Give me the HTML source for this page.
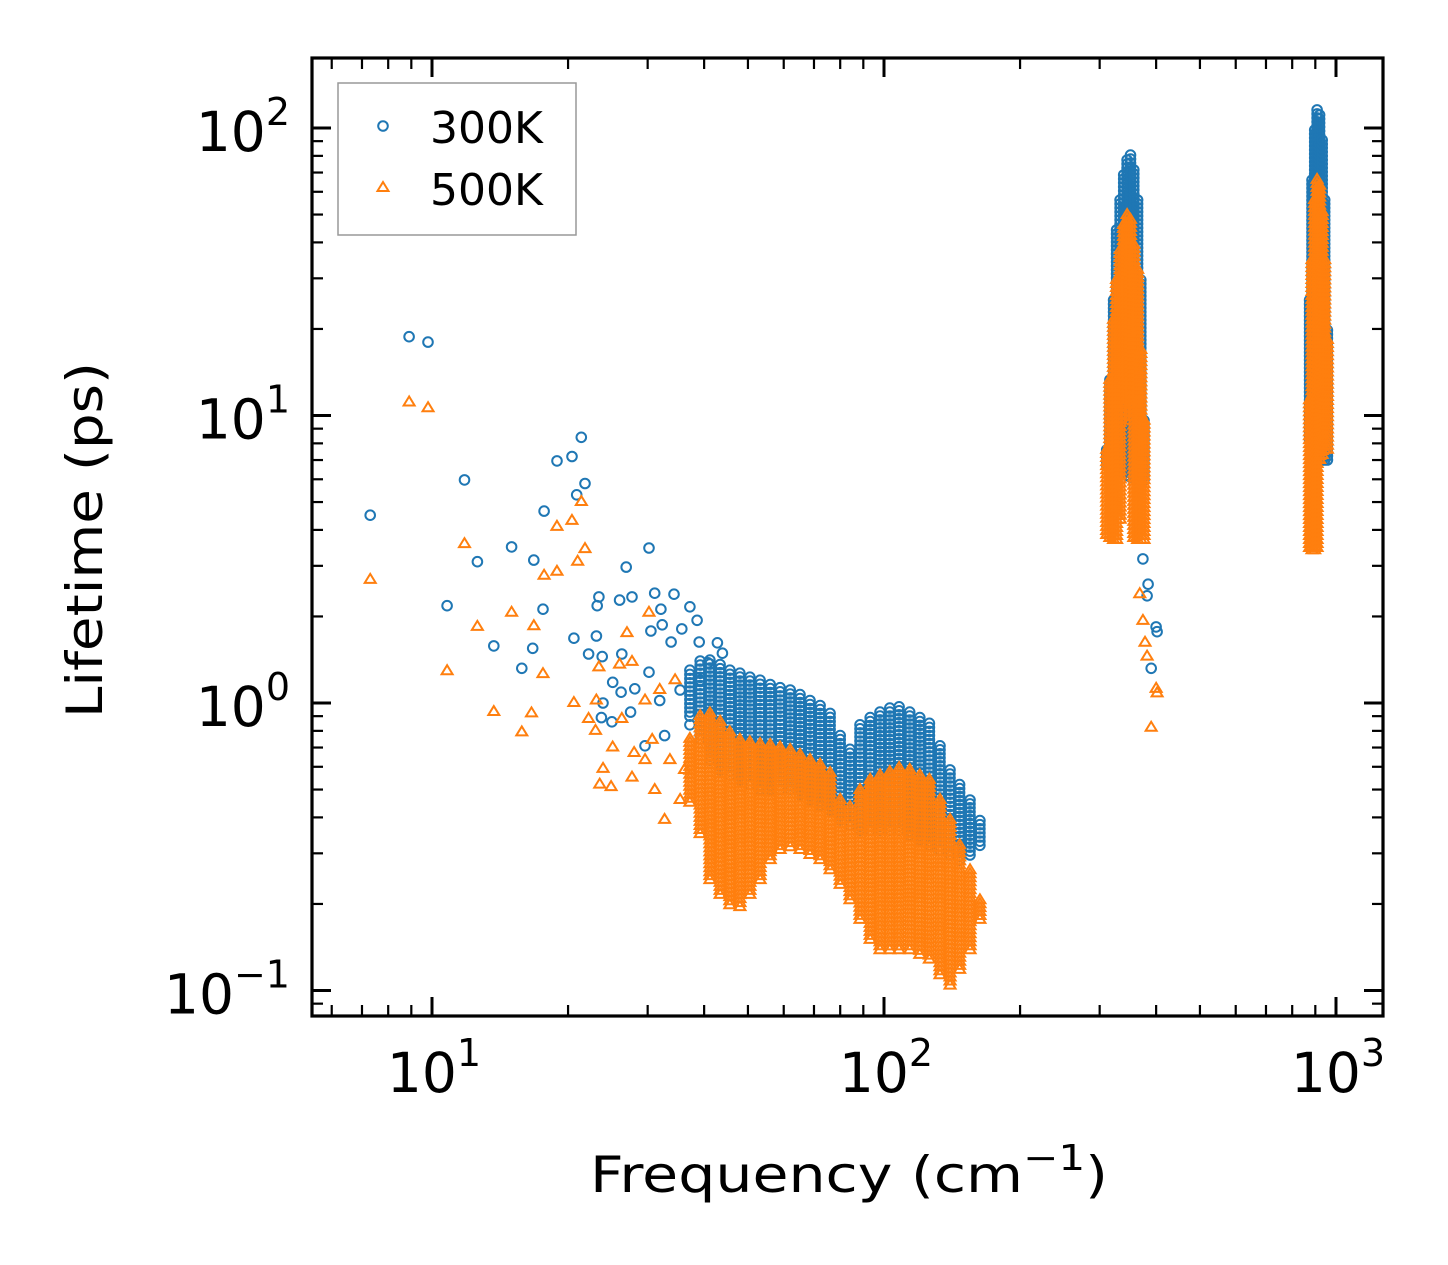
<!DOCTYPE html>
<html><head><meta charset="utf-8"><style>
html,body{margin:0;padding:0;background:#fff;}
svg{display:block;font-family:"DejaVu Sans","Liberation Sans",sans-serif;}
</style></head><body>
<svg id="chart" width="1448" height="1265" viewBox="0 0 1448 1265" xmlns="http://www.w3.org/2000/svg">
<rect width="1448" height="1265" fill="#fff"/>
<g id="marks"></g>
<g id="axes"></g>
<g>
<rect x="338" y="83" width="238" height="152" fill="#fff" fill-opacity="0.8" stroke="#999" stroke-width="1.5"/>
<circle cx="383" cy="126" r="4.8" fill="none" stroke="#1f77b4" stroke-width="2"/>
<polygon points="383,182 377.5,191 388.5,191" fill="none" stroke="#ff7f0e" stroke-width="2"/>
<text x="430" y="143" font-size="44">300K</text>
<text x="430" y="205" font-size="44">500K</text>
</g>
<text x="590" y="1192" font-size="50" textLength="518" lengthAdjust="spacingAndGlyphs">Frequency (cm<tspan font-size="36" dy="-22">−1</tspan><tspan dy="22">)</tspan></text>
<text transform="translate(102,718) rotate(-90)" x="0" y="0" font-size="50" textLength="356" lengthAdjust="spacingAndGlyphs">Lifetime (ps)</text>
</svg>
<script>
// ---- data ----
const sparseFreq300 = [7.3,8.9,9.8,11.8,12.6,10.8,13.7,15.0,15.8,16.7,16.8,17.7,17.6,18.9,20.4,21.4,20.9,21.8,20.6,30.2,26.9,23.1,22.2,23.8,26.3,23.4,23.2,26.0,27.7,31.1,34.3,32.1,30.5,32.3,35.7,37.2,38.6,25.1,26.2,28.1,27.5,23.9,25.0,23.7,30.2,33.8,39.0,42.8,43.9,40.8,31.9,35.4,39.2,29.6,32.7,37.2,41.2,374,384,382,390,400,402];
const sparseLife300 = [4.5,18.8,18.0,5.97,3.1,2.18,1.58,3.49,1.32,1.55,3.14,4.65,2.12,6.95,7.2,8.4,5.3,5.8,1.68,3.46,2.97,1.71,1.48,1.45,1.48,2.34,2.18,2.28,2.34,2.41,2.39,2.12,1.78,1.87,1.81,2.16,1.94,1.18,1.09,1.12,0.93,1.0,0.86,0.89,1.28,1.63,1.63,1.62,1.49,1.38,1.02,1.11,1.2,0.71,0.77,0.84,1.02,3.17,2.59,2.36,1.32,1.84,1.77];
const sparseFreq500 = [8.9,9.8,7.3,11.8,12.6,10.8,13.7,15.0,15.8,16.6,16.8,17.6,17.7,18.9,18.9,20.4,21.4,21.8,21.0,20.6,23.1,22.2,23.0,23.4,26.0,27.0,30.2,27.7,26.3,25.1,23.9,23.5,24.9,27.7,28.0,29.6,31.9,34.5,30.7,33.6,36.2,31.1,35.4,32.7,29.6,368,374,378,382,390,400,402];
const sparseLife500 = [11.1,10.6,2.68,3.57,1.84,1.29,0.93,2.06,0.79,0.92,1.85,1.26,2.77,2.86,4.1,4.3,5.0,3.43,3.1,1.0,1.02,0.88,0.80,1.33,1.36,1.75,2.06,1.39,0.88,0.70,0.59,0.52,0.51,0.55,0.67,1.02,1.11,1.2,0.744,0.633,0.585,0.498,0.46,0.392,0.633,2.39,1.93,1.62,1.45,0.82,1.12,1.08];
// dense bands: frequency columns with min / max lifetime
const bandFreq = [37.2,39.2,41.2,43.4,45.6,48.0,50.5,53.2,56.0,58.9,62.0,65.2,68.6,72.2,76.0,80.0,84.1,88.5,93.2,98.0,103,108,114,120,126,133,140,147,155,163];
const bandHi300 = [1.3,1.4,1.41,1.36,1.30,1.27,1.23,1.20,1.16,1.13,1.11,1.07,1.02,0.98,0.92,0.77,0.69,0.84,0.89,0.93,0.96,0.97,0.93,0.89,0.85,0.71,0.585,0.52,0.46,0.39];
const bandLo300 = [0.9,0.75,0.633,0.585,0.56,0.54,0.52,0.50,0.50,0.50,0.50,0.48,0.46,0.44,0.424,0.392,0.376,0.361,0.361,0.361,0.361,0.361,0.347,0.334,0.32,0.308,0.296,0.284,0.296,0.32];
const bandHi500 = [0.75,0.9,0.92,0.86,0.79,0.744,0.73,0.72,0.715,0.70,0.686,0.66,0.633,0.61,0.57,0.46,0.435,0.498,0.54,0.56,0.575,0.594,0.585,0.56,0.54,0.46,0.392,0.32,0.262,0.206];
const bandLo500 = [0.45,0.35,0.242,0.215,0.198,0.195,0.215,0.242,0.284,0.308,0.315,0.308,0.296,0.284,0.262,0.233,0.206,0.176,0.150,0.138,0.138,0.138,0.138,0.133,0.128,0.113,0.104,0.118,0.138,0.176];
const peak1Freq = [311,316,322,327,333,339,345,351,357,364,370,376];
const peak1Hi300 = [7.59,13.3,25.2,44.2,56.2,68.7,77.4,80.5,71.5,56.2,29.6,9.6];
const peak1Lo300 = [6.73,6.62,6.6,6.5,6.4,6.3,6.2,6.1,6.1,6.0,5.97,5.97];
const peak1Hi500 = [7.59,13.3,21.5,29.6,37.6,46.0,49.8,47.9,39.2,32.1,16.9,9.6];
const peak1Lo500 = [3.84,3.75,3.69,3.69,4.34,10.9,11.3,9.6,3.75,3.69,3.69,3.69];
const peak2Freq = [874,885,897,908,920,932,944,957];
const peak2Hi300 = [25.2,65.9,98.4,115.6,111,90.8,56.2,19.8];
const peak2Lo300 = [8.22,7.0,7.0,7.0,7.0,7.0,7.0,7.0];
const peak2Hi500 = [11.3,34.7,56.2,66,63,51,34.7,18.3];
const peak2Lo500 = [3.46,3.40,3.40,3.46,7.0,7.29,7.6,7.6];
const xMajor = [10,100,1000];
const xMajorLabels = ["1","2","3"];
const yMajor = [0.1,1,10,100];
const yMajorLabels = ["−1","0","1","2"];

// ---- scales ----
const X0=312, X1=1383, Y0=58, Y1=1016;
function xs(f){return 432 + 452*(Math.log10(f)-1);}
function ys(t){return 703 - 287.5*Math.log10(t);}
const NS="http://www.w3.org/2000/svg";
const marks=document.getElementById('marks');
const axes=document.getElementById('axes');
function mk(tag,attrs,parent){const e=document.createElementNS(NS,tag);for(const k in attrs)e.setAttribute(k,attrs[k]);parent.appendChild(e);return e;}

const g300=mk('g',{},marks);


const g500=mk('g',{},marks);



function circ(f,t){
  const c=mk('circle',{cx:xs(f).toFixed(1),cy:ys(t).toFixed(1),r:4.8,fill:'none',stroke:'#1f77b4','stroke-width':2},g300);
  
  
}
function tri(f,t){
  const x=xs(f),y=ys(t);
  const p=mk('polygon',{points:`${x},${y-6} ${x-5.5},${y+3} ${x+5.5},${y+3}`,fill:'none',stroke:'#ff7f0e','stroke-width':2},g500);
  
  
}
function band(freqs,lo,hi,fn){
  for(let i=0;i<freqs.length;i++){
    const yl=ys(lo[i]), yh=ys(hi[i]);
    const n=Math.max(1,Math.round((yl-yh)/4));
    for(let k=0;k<=n;k++){
      const t=Math.pow(10,(Math.log10(lo[i])+(Math.log10(hi[i])-Math.log10(lo[i]))*k/n));
      fn(freqs[i],t);
    }
  }
}
for(let i=0;i<sparseFreq300.length;i++) circ(sparseFreq300[i],sparseLife300[i]);
band(bandFreq,bandLo300,bandHi300,circ);
band(peak1Freq,peak1Lo300,peak1Hi300,circ);
band(peak2Freq,peak2Lo300,peak2Hi300,circ);
for(let i=0;i<sparseFreq500.length;i++) tri(sparseFreq500[i],sparseLife500[i]);
band(bandFreq,bandLo500,bandHi500,tri);
band(peak1Freq,peak1Lo500,peak1Hi500,tri);
band(peak2Freq,peak2Lo500,peak2Hi500,tri);

// ---- axes ----
const frame=mk('rect',{x:X0,y:Y0,width:X1-X0,height:Y1-Y0,fill:'none',stroke:'#000','stroke-width':3.2},axes);


function tick(x1,y1,x2,y2,w){mk('line',{x1,y1,x2,y2,stroke:'#000','stroke-width':w},axes);}
for(let d=0;d<=3;d++){
  for(let m=1;m<=9;m++){
    const v=m*Math.pow(10,d);
    const x=xs(v); if(x<X0+1||x>X1-1) continue;
    const L=m===1?19:11, w=m===1?3:2.2;
    tick(x,Y1,x,Y1-L,w); tick(x,Y0,x,Y0+L,w);
  }
}
for(let d=-2;d<=2;d++){
  for(let m=1;m<=9;m++){
    const v=m*Math.pow(10,d);
    const y=ys(v); if(y<Y0+1||y>Y1-1) continue;
    const L=m===1?19:11, w=m===1?3:2.2;
    tick(X0,y,X0+L,y,w); tick(X1,y,X1-L,y,w);
  }
}
xMajor.forEach((v,i)=>{
  const t=mk('text',{x:xs(v)+2,y:1092,'font-size':55,'text-anchor':'middle'},axes);
  
  
  t.innerHTML='10<tspan font-size="38" dy="-26">'+xMajorLabels[i]+'</tspan>';
});
yMajor.forEach((v,i)=>{
  const t=mk('text',{x:290,y:ys(v)+23,'font-size':55,'text-anchor':'end'},axes);
  
  
  t.innerHTML='10<tspan font-size="38" dy="-26">'+yMajorLabels[i]+'</tspan>';
});
</script>
</body></html>
